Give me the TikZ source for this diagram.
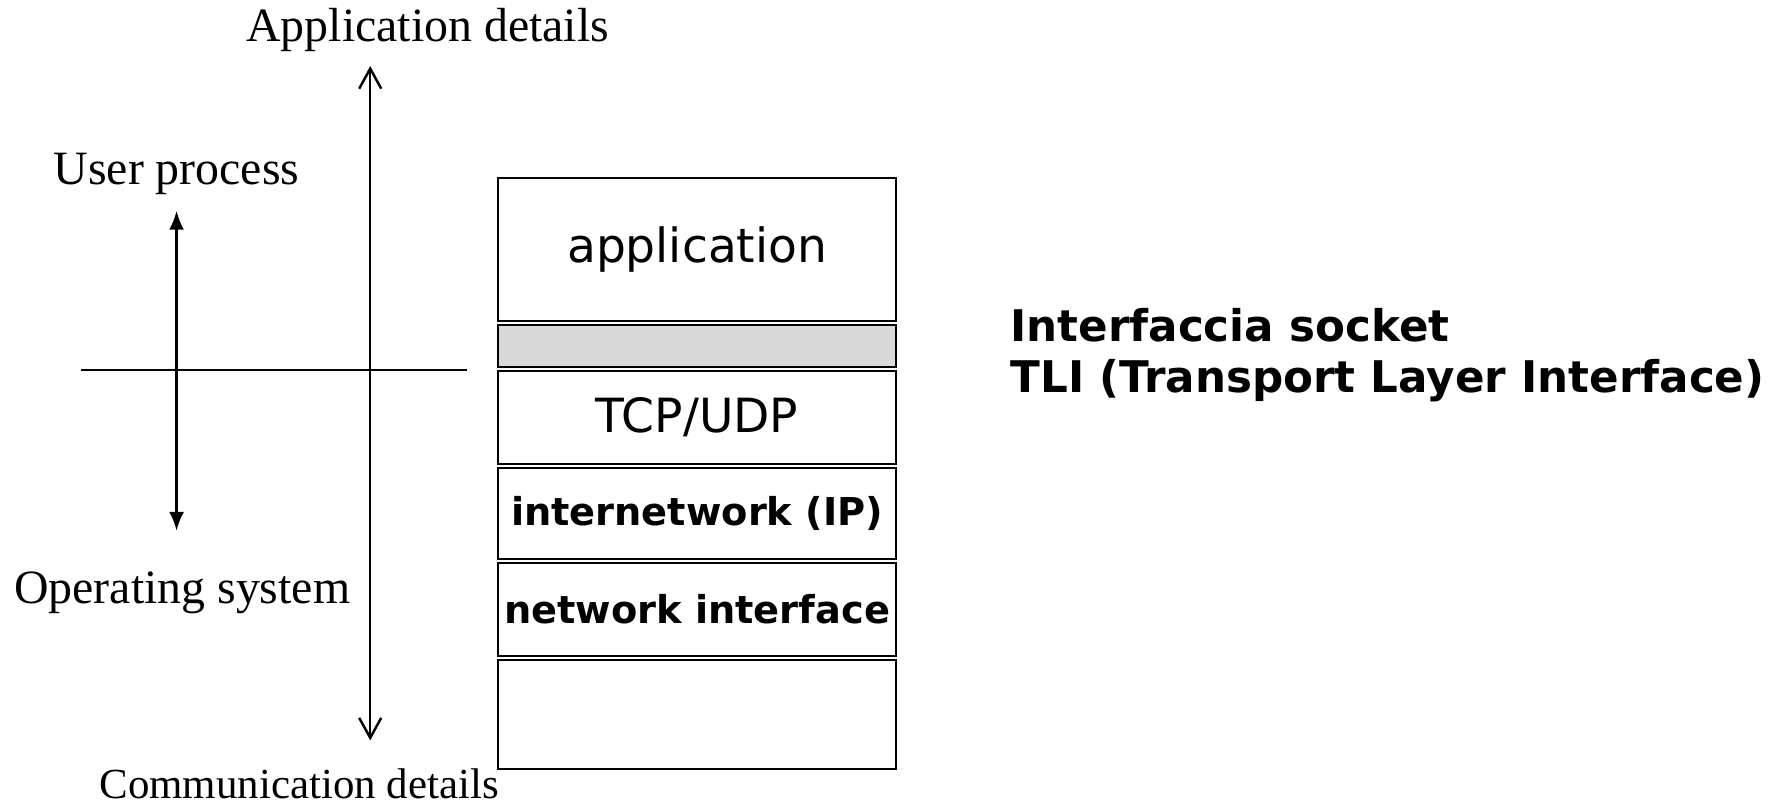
\documentclass[tikz,border=0pt]{standalone}
\usepackage{fontspec}
\setmainfont{Liberation Serif}
\newfontfamily\layerfont{DejaVu Sans}
\usetikzlibrary{arrows.meta}

\tikzset{
	sidetext/.style={anchor=base, inner sep=0pt, font=\fontsize{13.6}{16}\selectfont},
	layer/.style={draw, line width=0.6pt, minimum width=3.98cm, inner sep=0pt,
		font=\layerfont\fontsize{13.4}{16}\selectfont},
	boldlayer/.style={layer, font=\layerfont\bfseries\fontsize{10.9}{13}\selectfont},
	note/.style={anchor=base west, inner sep=0pt, font=\layerfont\bfseries\fontsize{12.4}{15}\selectfont}
}

\begin{document}
\begin{tikzpicture}[x=0.01139cm, y=-0.01139cm, line width=0.7pt]
		\useasboundingbox (0,0) rectangle (1560,708);
		
		%labels
		\node[sidetext] (appdet) at (375.5,36) {Application details};
		\node[sidetext] (userproc) at (155,162) {User process};
		\node[sidetext] (opsys) at (160,530) {Operating system};
		\node[sidetext, font=\fontsize{12.2}{14}\selectfont] (commdet) at (262.5,701) {Communication details};
		
		%axes
		\coordinate (hleft) at (71,325);
		\coordinate (hright) at (410,325);
		\coordinate (ustop) at (155,185);
		\coordinate (usbot) at (155,466);
		\coordinate (adtop) at (325,58);
		\coordinate (adbot) at (325,650);
		\draw (hleft) -- (hright);
		\draw[{Latex[length=1.9mm,width=1.5mm]}-{Latex[length=1.9mm,width=1.5mm]}] (usbot) -- (ustop);
		\draw[{Straight Barb[length=2mm,width=2.2mm]}-{Straight Barb[length=2mm,width=2.2mm]}] (adbot) -- (adtop);
		
		%protocol stack
		\node[layer, minimum height=1.435cm] (app) at (612,219) {application};
		\node[layer, minimum height=0.416cm, fill=black!15] (sock) at (612,303.75) {};
		\node[layer, minimum height=0.928cm] (tcp) at (612,366.25) {TCP/UDP};
		\node[boldlayer, minimum height=0.917cm] (ip) at (612,450.75) {internetwork (IP)};
		\node[boldlayer, minimum height=0.928cm] (net) at (612,535.25) {network interface};
		\node[layer, minimum height=1.088cm] (hw) at (612,627.25) {};
		
		%side note
		\node[note] (socket) at (886,300) {Interfaccia socket};
		\node[note] (tli) at (886,345) {TLI (Transport Layer Interface)};
\end{tikzpicture}
\end{document}
